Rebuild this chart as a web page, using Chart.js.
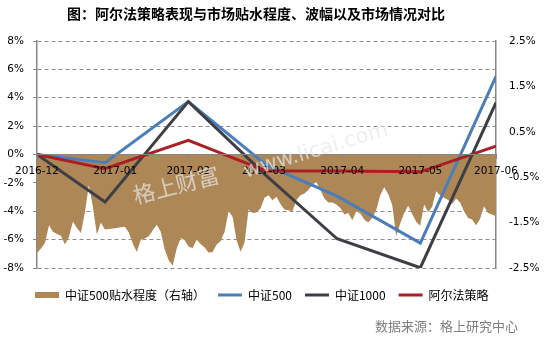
<!DOCTYPE html>
<html><head><meta charset="utf-8">
<script src="https://cdn.jsdelivr.net/npm/chart.js@4.4.1/dist/chart.umd.min.js"></script>
<style>html,body{margin:0;padding:0;background:#fff}#wrap{width:553px;height:338px;position:relative}</style>
</head><body><div id="wrap"><canvas id="c" width="553" height="338"></canvas></div>
<script>
// ---- data ----
const titleText = '图：阿尔法策略表现与市场贴水程度、波幅以及市场情况对比';
const sourceText = '数据来源：格上研究中心';
const watermarkCn = '格上财富';
const watermarkEn = 'www.licai.com';
const pointDates = ['2016-12-30','2017-01-26','2017-02-28','2017-03-31','2017-04-28','2017-05-31','2017-06-30'];
const tickDates  = ['2016-12-30','2017-01-30','2017-02-28','2017-03-30','2017-04-30','2017-05-31','2017-06-30'];
const tickLabels = ['2016-12','2017-01','2017-02','2017-03','2017-04','2017-05','2017-06'];
const seriesNames = ['中证500贴水程度（右轴）','中证500','中证1000','阿尔法策略'];
const csi500  = [0, -0.58, 3.73, -0.75, -2.94, -6.24, 5.50];
const csi1000 = [0, -3.35, 3.73, -1.50, -5.94, -7.98, 3.66];
const alphaStrategy = [0, -1.00, 0.99, -1.17, -1.17, -1.22, 0.58];
const basis500 = [
-2.17,-2.07,-1.95,-1.56,-1.70,-1.75,-1.79,-1.98,-1.81,-1.48,
-1.62,-1.73,-1.27,-0.67,-1.15,-1.76,-1.50,-1.65,-1.64,-1.63,
-1.62,-1.60,-1.59,-1.72,-1.96,-2.15,-1.88,-1.85,-1.80,-1.67,
-1.55,-1.70,-2.09,-2.33,-2.45,-2.07,-1.84,-1.89,-2.03,-2.06,
-1.88,-1.97,-2.05,-2.16,-2.15,-1.98,-1.91,-1.70,-1.25,-1.37,
-1.89,-2.14,-1.94,-1.21,-1.29,-1.28,-1.19,-0.95,-0.90,-1.01,
-0.93,-1.09,-1.21,-1.23,-1.25,-1.00,-0.90,-0.86,-0.78,-0.66,
-0.61,-0.78,-0.97,-1.06,-1.06,-1.10,-1.18,-1.32,-1.29,-1.45,
-1.25,-1.30,-1.43,-1.50,-1.40,-1.22,-0.90,-0.72,-0.87,-1.11,
-1.80,-1.52,-1.29,-1.13,-1.31,-1.48,-1.57,-1.10,-1.27,-1.15,
-0.81,-0.90,-0.95,-1.00,-1.09,-0.97,-1.06,-1.25,-1.40,-1.43,
-1.56,-1.42,-1.14,-1.29,-1.32,-1.36];

// ---- helpers ----
const DAY = 86400000;
const t0 = Date.parse(pointDates[0]);
const dayOf = d => (Date.parse(d) - t0) / DAY;
const pts = vals => vals.map((v, i) => ({x: dayOf(pointDates[i]), y: v}));
const tickDays = tickDates.map(dayOf);

const colors = {area:'#AE8757', blue:'#4A7EBB', dark:'#3D3F45', red:'#AA1E24', axis:'#868686', grid:'#8C8C8C'};

const legendShift = {
  id: 'legendShift',
  afterLayout(chart) {
    if (chart.legend) { chart.legend.left += 22; chart.legend.right += 22; }
  }
};

const overlay = {
  id: 'overlay',
  afterDraw(chart) {
    const ctx = chart.ctx;
    ctx.save();
    // watermark
    ctx.fillStyle = 'rgba(232,232,232,0.72)';
    ctx.textAlign = 'center'; ctx.textBaseline = 'middle';
    ctx.save(); ctx.translate(176, 185); ctx.rotate(-0.25);
    ctx.font = '22px "Noto Sans CJK SC"'; ctx.fillText(watermarkCn, 0, 0); ctx.restore();
    ctx.save(); ctx.translate(316, 151); ctx.rotate(-0.29);
    ctx.font = '21px "DejaVu Sans"'; ctx.fillText(watermarkEn, 0, 0); ctx.restore();
    // title
    ctx.fillStyle = '#000';
    ctx.font = 'bold 14px "Noto Sans CJK SC"';
    ctx.textAlign = 'center'; ctx.textBaseline = 'middle';
    ctx.fillText(titleText, 256, 14);
    // source
    ctx.fillStyle = '#7F7F7F';
    ctx.font = '13px "Noto Sans CJK SC"';
    ctx.textAlign = 'right';
    ctx.fillText(sourceText, 518, 326);
    ctx.restore();
  }
};

new Chart(document.getElementById('c'), {
  type: 'line',
  data: {
    labels: basis500.map((_, i) => i),
    datasets: [
      {label: seriesNames[0], data: basis500, xAxisID: 'x2', yAxisID: 'y2', order: 4,
       backgroundColor: colors.area, borderColor: colors.area, borderWidth: 0, fill: 'origin',
       pointRadius: 0, pointStyle: 'rect', tension: 0},
      {label: seriesNames[1], data: pts(csi500), xAxisID: 'x', yAxisID: 'y', order: 3,
       borderColor: colors.blue, backgroundColor: colors.blue, borderWidth: 3, pointRadius: 0, pointStyle: 'line', fill: false},
      {label: seriesNames[2], data: pts(csi1000), xAxisID: 'x', yAxisID: 'y', order: 2,
       borderColor: colors.dark, backgroundColor: colors.dark, borderWidth: 3, pointRadius: 0, pointStyle: 'line', fill: false},
      {label: seriesNames[3], data: pts(alphaStrategy), xAxisID: 'x', yAxisID: 'y', order: 1,
       borderColor: colors.red, backgroundColor: colors.red, borderWidth: 3, pointRadius: 0, pointStyle: 'line', fill: false}
    ]
  },
  options: {
    responsive: false, animation: false, events: [],
    layout: {padding: {left: 0, right: 0, top: 41, bottom: 27}},
    font: {family: '"DejaVu Sans"'},
    plugins: {
      tooltip: {enabled: false},
      title: {display: false},
      legend: {
        position: 'bottom', align: 'start',
        labels: {
          font: {family: '"Noto Sans CJK SC"', size: 12}, color: '#000',
          usePointStyle: true, pointStyleWidth: 24, boxWidth: 24, boxHeight: 6, padding: 13,
          sort: (a, b) => a.datasetIndex - b.datasetIndex
        }
      }
    },
    scales: {
      x: {
        type: 'linear', position: {y: 0}, min: 0, max: tickDays[tickDays.length - 1],
        afterBuildTicks: s => { s.ticks = tickDays.map(v => ({value: v})); },
        ticks: {z: 1, autoSkip: false, maxRotation: 0, padding: 6, color: '#000',
                font: {family: '"DejaVu Sans"', size: 10.5},
                callback: (v, i) => tickLabels[i]},
        grid: {z: 1, drawOnChartArea: false, drawTicks: true, tickLength: 4, color: colors.axis},
        border: {z: 1, display: true, color: colors.axis, width: 1}
      },
      x2: {
        type: 'category', position: 'bottom', offset: false, display: true,
        ticks: {display: false}, grid: {display: false}, border: {display: false},
        afterFit: s => { s.height = 8; }
      },
      y: {
        position: 'left', min: -8, max: 8,
        afterFit: s => { s.width = 37; },
        ticks: {stepSize: 2, padding: 9, color: '#000', font: {family: '"DejaVu Sans"', size: 10.5},
                callback: v => v + '%'},
        grid: {color: colors.grid, lineWidth: 1, tickLength: 4, drawTicks: true, tickColor: colors.axis},
        border: {display: true, color: colors.axis, width: 1.5, dash: [4, 3]}
      },
      y2: {
        position: 'right', min: -2.5, max: 2.5,
        afterFit: s => { s.width = 57; },
        ticks: {stepSize: 1, padding: 13, color: '#000', font: {family: '"DejaVu Sans"', size: 10.5},
                callback: v => v.toFixed(1) + '%'},
        grid: {drawOnChartArea: false, drawTicks: false},
        border: {display: true, color: colors.axis, width: 1.5}
      }
    }
  },
  plugins: [legendShift, overlay]
});
</script></body></html>
